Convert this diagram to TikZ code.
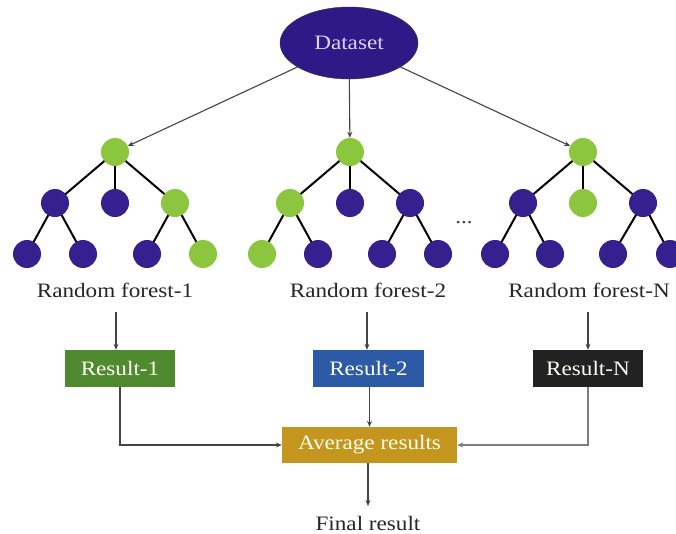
\documentclass[tikz,border=0pt]{standalone}
\usepackage{fontspec}
\setmainfont{Liberation Serif}[FakeStretch=1.13]
\usetikzlibrary{arrows.meta,shapes.geometric,backgrounds}
\definecolor{pur}{HTML}{34208F}
\definecolor{grn}{HTML}{8CC63F}
\definecolor{dsfill}{HTML}{2E1A86}
\definecolor{dstext}{HTML}{DAD3F7}
\definecolor{rgreen}{HTML}{4F8A2E}
\definecolor{rblue}{HTML}{2C5AA6}
\definecolor{rblack}{HTML}{222222}
\definecolor{ravg}{HTML}{C4961E}
\definecolor{arrgray}{HTML}{444444}
\begin{document}
\begin{tikzpicture}[x=1pt,y=-1pt,
  every node/.style={font=\fontsize{20.5}{24}\selectfont},
  pn/.style={circle,fill=pur,minimum size=28pt,inner sep=0pt},
  gn/.style={circle,fill=grn,minimum size=28pt,inner sep=0pt},
  edge/.style={line width=2pt,black},
  arr/.style={arrgray,line width=1.1pt,-{Stealth[length=6pt,width=5pt]}},
  resbox/.style={minimum height=37pt,inner sep=0pt,text=white!94!yellow},
  lbl/.style={anchor=base,text=black!85}]
\useasboundingbox (0,0) rectangle (676,533);
% Dataset
\node[ellipse,draw=black!80,fill=dsfill,text=dstext,minimum width=138pt,minimum height=72pt,inner sep=0pt] (ds) at (349,43) {Dataset};
% Tree 1
\node[gn] (a0) at (115,152) {};
\node[pn] (a1) at (55,203) {};
\node[pn] (a2) at (115,203) {};
\node[gn] (a3) at (175,203) {};
\node[pn] (a4) at (27,254) {};
\node[pn] (a5) at (83,254) {};
\node[pn] (a6) at (147,254) {};
\node[gn] (a7) at (203,254) {};
% Tree 2
\node[gn] (b0) at (350,152) {};
\node[gn] (b1) at (290,203) {};
\node[pn] (b2) at (350,203) {};
\node[pn] (b3) at (410,203) {};
\node[gn] (b4) at (262,254) {};
\node[pn] (b5) at (318,254) {};
\node[pn] (b6) at (382,254) {};
\node[pn] (b7) at (438,254) {};
% Tree 3
\node[gn] (c0) at (583,152) {};
\node[pn] (c1) at (523,203) {};
\node[gn] (c2) at (583,203) {};
\node[pn] (c3) at (643,203) {};
\node[pn] (c4) at (495,254) {};
\node[pn] (c5) at (550,254) {};
\node[pn] (c6) at (613,254) {};
\node[pn] (c7) at (670,254) {};
\begin{pgfonlayer}{background}
\foreach \t in {a,b,c}{
  \draw[edge] (\t0.center) -- (\t1.center);
  \draw[edge] (\t0.center) -- (\t2.center);
  \draw[edge] (\t0.center) -- (\t3.center);
  \draw[edge] (\t1.center) -- (\t4.center);
  \draw[edge] (\t1.center) -- (\t5.center);
  \draw[edge] (\t3.center) -- (\t6.center);
  \draw[edge] (\t3.center) -- (\t7.center);
}
\end{pgfonlayer}
\node[anchor=base,text=black!75] (dots) at (464,223) {...};
% Dataset arrows
\draw[arr] (ds) -- (a0);
\draw[arr] (ds) -- (b0);
\draw[arr] (ds) -- (c0);
% Labels
\node[lbl] (l1) at (115,297) {Random forest-1};
\node[lbl] (l2) at (368,297) {Random forest-2};
\node[lbl] (l3) at (589,297) {Random forest-N};
% Results
\node[resbox,fill=rgreen,minimum width=110pt] (r1) at (120,368.5) {Result-1};
\node[resbox,fill=rblue,minimum width=111pt] (r2) at (368.5,368.5) {Result-2};
\node[resbox,fill=rblack,minimum width=110pt] (r3) at (588,368.5) {Result-N};
\coordinate (s1) at (116,312);
\coordinate (s2) at (367,312);
\coordinate (s3) at (588,312);
\draw[arr] (s1) -- (s1 |- r1.north);
\draw[arr] (s2) -- (s2 |- r2.north);
\draw[arr] (s3) -- (s3 |- r3.north);
% Average
\node[resbox,fill=ravg,minimum width=175pt,minimum height=36pt] (avg) at (369.5,445) {Average results};
\draw[arr] (r1.south) |- (avg.west);
\draw[arr] (r2.south -| avg.north) -- (avg.north);
\draw[arr,arrgray!70] (r3.south) |- (avg.east);
% Final
\node[lbl] (fin) at (368,530) {Final result};
\coordinate (f1) at (368,506);
\draw[arr] (avg.south -| f1) -- (f1);
\end{tikzpicture}
\end{document}
